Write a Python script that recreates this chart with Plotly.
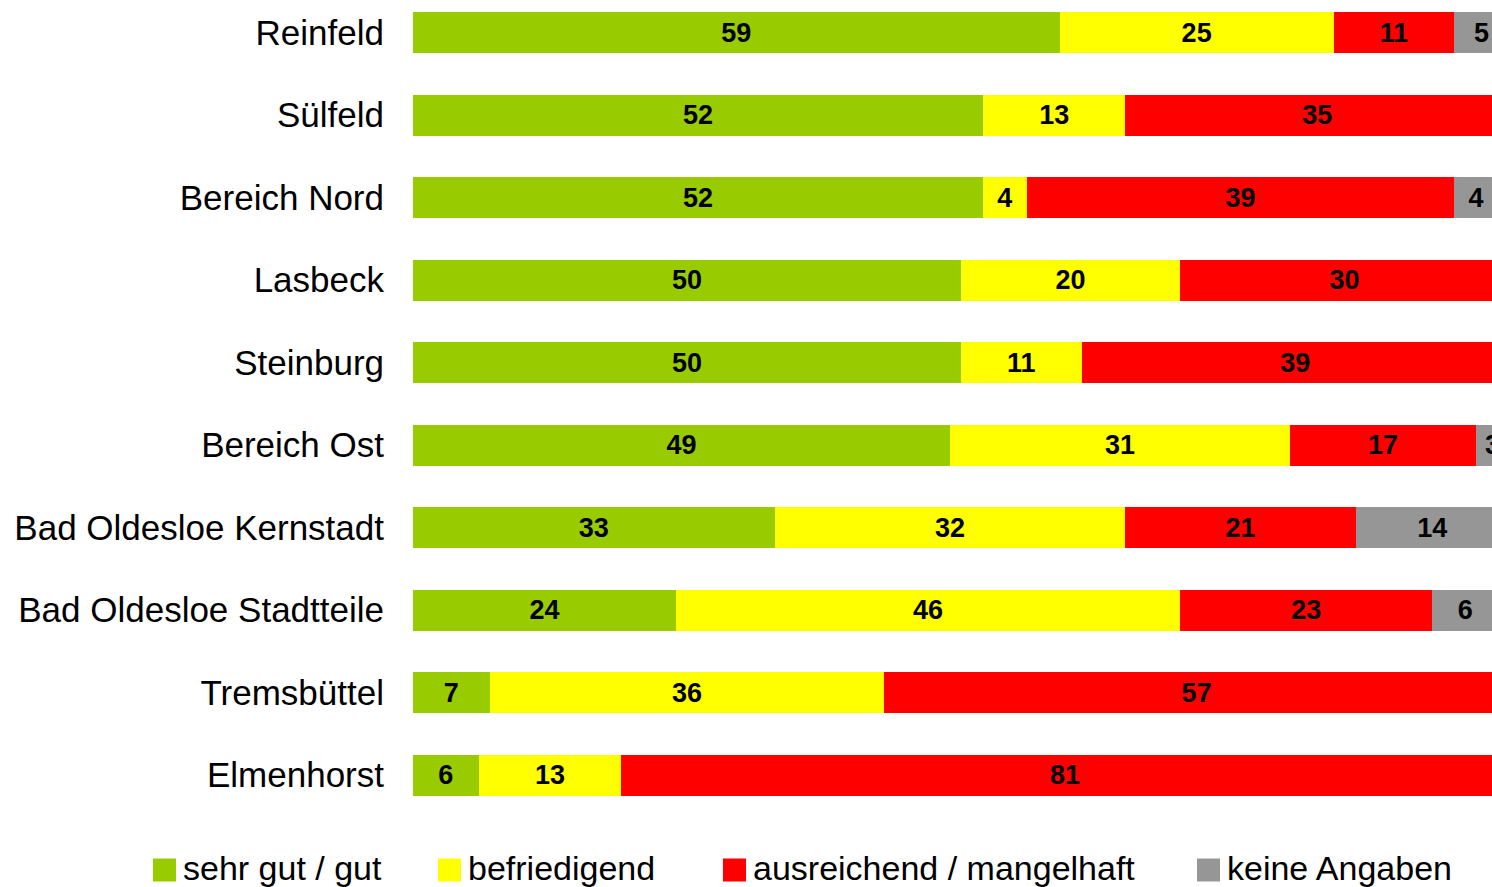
import plotly.graph_objects as go

categories = ["Reinfeld", "Sülfeld", "Bereich Nord", "Lasbeck", "Steinburg", "Bereich Ost",
              "Bad Oldesloe Kernstadt", "Bad Oldesloe Stadtteile", "Tremsbüttel", "Elmenhorst"]
sehr_gut = [59, 52, 52, 50, 50, 49, 33, 24, 7, 6]
befriedigend = [25, 13, 4, 20, 11, 31, 32, 46, 36, 13]
ausreichend = [11, 35, 39, 30, 39, 17, 21, 23, 57, 81]
keine = [5, 0, 4, 0, 0, 3, 14, 6, 0, 0]

series_names = ["sehr gut / gut", "befriedigend", "ausreichend / mangelhaft", "keine Angaben"]
series_values = [sehr_gut, befriedigend, ausreichend, keine]
colors = ["#99CC00", "#FFFF00", "#FF0000", "#969696"]

W, H = 1492, 887
L, R, T, B = 413, 0, 0, 71
pw, ph = W - L - R, H - T - B

fig = go.Figure()
for name, vals, col in zip(series_names, series_values, colors):
    fig.add_trace(go.Bar(
        y=categories, x=vals, orientation="h", name=name,
        marker=dict(color=col, line=dict(width=0)),
        text=[str(v) if v else "" for v in vals],
        textposition="inside", insidetextanchor="middle", textangle=0,
        constraintext="none",
        textfont=dict(family="Liberation Sans", size=27, color="black", weight="bold"),
        showlegend=False, cliponaxis=True,
    ))

fig.update_layout(
    width=W, height=H, autosize=False, barmode="stack", bargap=0.503,
    margin=dict(l=L, r=R, t=T, b=B, autoexpand=False),
    plot_bgcolor="white", paper_bgcolor="white",
    font=dict(family="Liberation Sans", color="black"),
    xaxis=dict(range=[0, 98.45], visible=False, fixedrange=True),
    yaxis=dict(categoryorder="array", categoryarray=categories,
               range=[9.497, -0.394], showgrid=False, zeroline=False, showline=False,
               ticks="outside", ticklen=21, tickcolor="rgba(0,0,0,0)",
               tickfont=dict(family="Liberation Sans", size=35, color="black")),
)

# manual legend
legend_sq_x = [153, 438, 723, 1197]
sq = 23
cy = 870
for name, col, px in zip(series_names, colors, legend_sq_x):
    x0 = (px - L) / pw
    x1 = (px + sq - L) / pw
    y0 = (ph - (cy + sq / 2 - T)) / ph
    y1 = (ph - (cy - sq / 2 - T)) / ph
    fig.add_shape(type="rect", xref="paper", yref="paper", x0=x0, x1=x1, y0=y0, y1=y1,
                  fillcolor=col, line=dict(width=0))
    fig.add_annotation(xref="paper", yref="paper", x=(px + sq + 5 - L) / pw,
                       y=(ph - (868 - T)) / ph, text=name, showarrow=False,
                       xanchor="left", yanchor="middle",
                       font=dict(family="Liberation Sans", size=34, color="black"))

post = ("document.body.style.margin='0';document.body.style.overflow='hidden';"
        "var gd=document.getElementById('{plot_id}');"
        "Plotly.relayout(gd,{width:%d,height:%d});" % (W, H))
fig.write_html("out.html", config={"responsive": False, "displayModeBar": False},
               post_script=post)
